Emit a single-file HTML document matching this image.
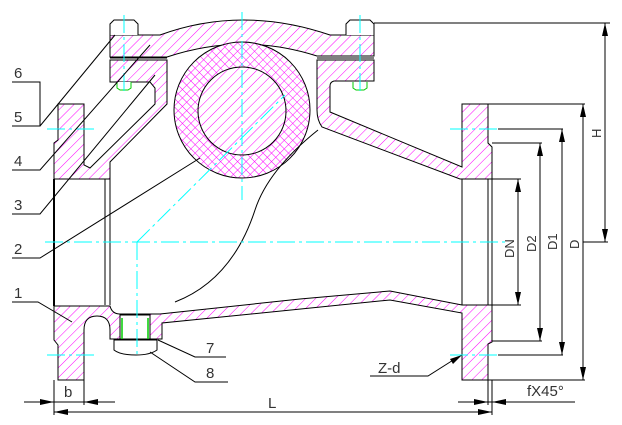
<!DOCTYPE html>
<html><head><meta charset="utf-8"><style>
html,body{margin:0;padding:0;background:#fff;}
svg{display:block;font-family:"Liberation Sans",sans-serif;}
</style></head><body>
<svg width="622" height="425" viewBox="0 0 622 425" xmlns="http://www.w3.org/2000/svg">
<defs>
<pattern id="h" patternUnits="userSpaceOnUse" width="7" height="7" patternTransform="rotate(45)">
<rect width="7" height="7" fill="#fff"/><line x1="0" y1="0" x2="0" y2="7" stroke="#f0f" stroke-width="1"/></pattern>
<pattern id="x" patternUnits="userSpaceOnUse" width="6" height="6" patternTransform="rotate(45)">
<rect width="6" height="6" fill="#fff"/><line x1="0" y1="0" x2="0" y2="6" stroke="#f0f" stroke-width="1"/><line x1="0" y1="0" x2="6" y2="0" stroke="#f0f" stroke-width="1"/></pattern>
</defs>
<g stroke="#000" stroke-width="1" fill="url(#h)">
<path d="M58,104 H84 V165 L90,168 L155,104 V88 L150,82 H110 V60 H167 V104 L110,162 V179 H54 V143 L58,140 Z"/>
<path d="M110,35 H160 Q242,5 330,35 H374 V56 H317 Q242,32 167,57 H110 Z"/>
<path d="M317,60 H374 V81 H334 Q330,82 330,86 V112 L462,167 V104 H488 V143 L492,147 V179 H460 L322,127 Q317,120 317,110 Z"/>
<path d="M54,306 H110 Q112,314 120,314 H160 L300,299 L390,291 L462,305 H492 V342 L488,344 V380 H462 V313 L390,300 L162,323 V339 H110 V330 Q110,316 97,316 Q84,316 84,330 V380 H58 V345 L54,340 Z"/>
</g>
<circle cx="242" cy="110" r="68" fill="url(#x)" stroke="#000"/>
<circle cx="242" cy="111" r="44" fill="url(#h)" stroke="#000"/>
<g stroke="#000" fill="none">
<line x1="54" y1="179" x2="54" y2="306" stroke-width="2"/>
<line x1="105" y1="179" x2="105" y2="305"/><line x1="110" y1="179" x2="110" y2="305"/>
<line x1="462" y1="179" x2="462" y2="305"/><line x1="488" y1="179" x2="488" y2="305"/><line x1="492" y1="147" x2="492" y2="342"/>
<path d="M318,130 Q268,170 255,210 Q232,280 175,302"/>
<rect x="120" y="315" width="30" height="24" fill="#fff"/>
<line x1="122" y1="318" x2="122" y2="339" stroke="#0c0" stroke-width="1.5"/><line x1="148" y1="318" x2="148" y2="339" stroke="#0c0" stroke-width="1.5"/>
<path d="M114,340 H157 V350 Q150,355 136,355 Q120,355 114,350 Z" fill="#fff"/>
<path d="M110,35 V24 L114,20 H134 L138,24 V35" fill="#fff"/>
<path d="M346,35 V24 L350,20 H370 L374,24 V35" fill="#fff"/>
<path d="M117,82 V88 L120,90 H128 L131,88 V82" fill="#fff" stroke="#0c0"/>
<path d="M353,82 V88 L356,90 H364 L367,88 V82" fill="#fff" stroke="#0c0"/>
<line x1="110" y1="58" x2="167" y2="58"/><line x1="317" y1="58" x2="374" y2="58"/>
</g>
<g stroke="#0ff" stroke-width="1" fill="none" stroke-dasharray="18,4,3,4">
<line x1="45" y1="242" x2="505" y2="242"/>
<line x1="242" y1="12" x2="242" y2="200"/>
<line x1="137" y1="242" x2="285" y2="95"/>
<line x1="137" y1="242" x2="137" y2="355"/>
<line x1="124" y1="15" x2="124" y2="95"/><line x1="360" y1="15" x2="360" y2="95"/>
<line x1="47" y1="129" x2="97" y2="129"/><line x1="47" y1="355" x2="97" y2="355"/>
<line x1="450" y1="129" x2="498" y2="129"/><line x1="450" y1="355" x2="498" y2="355"/>
</g>
<g stroke="#000" stroke-width="1" fill="none">
<line x1="374" y1="23" x2="610" y2="23"/><line x1="605" y1="23" x2="605" y2="242"/><line x1="583" y1="242" x2="608" y2="242"/>
<line x1="488" y1="104" x2="585" y2="104"/><line x1="583" y1="104" x2="583" y2="380"/><line x1="488" y1="380" x2="585" y2="380"/>
<line x1="498" y1="129" x2="563" y2="129"/><line x1="562" y1="129" x2="562" y2="355"/><line x1="498" y1="355" x2="563" y2="355"/>
<line x1="492" y1="143" x2="542" y2="143"/><line x1="540" y1="143" x2="540" y2="341"/><line x1="492" y1="341" x2="542" y2="341"/>
<line x1="488" y1="179" x2="521" y2="179"/><line x1="518" y1="179" x2="518" y2="305"/><line x1="488" y1="305" x2="521" y2="305"/>
<line x1="54" y1="380" x2="54" y2="415"/><line x1="84" y1="380" x2="84" y2="405"/>
<line x1="24" y1="402" x2="115" y2="402"/><line x1="54" y1="412" x2="492" y2="412"/>
<line x1="492" y1="380" x2="492" y2="415"/><line x1="488" y1="380" x2="488" y2="405"/>
<line x1="458" y1="402" x2="575" y2="402"/>
</g>
<g fill="#000">
<path d="M605,23 l-3,13 h6z"/><path d="M605,242 l-3,-13 h6z"/>
<path d="M583,104 l-3,13 h6z"/><path d="M583,380 l-3,-13 h6z"/>
<path d="M562,129 l-3,13 h6z"/><path d="M562,355 l-3,-13 h6z"/>
<path d="M540,143 l-3,13 h6z"/><path d="M540,341 l-3,-13 h6z"/>
<path d="M518,179 l-3,13 h6z"/><path d="M518,305 l-3,-13 h6z"/>
<path d="M54,402 l-14,-3 v6z"/><path d="M84,402 l14,-3 v6z"/>
<path d="M54,412 l14,-3 v6z"/><path d="M492,412 l-14,-3 v6z"/>
<path d="M488,402 l-14,-3 v6z"/><path d="M492,402 l14,-3 v6z"/>
<path d="M462,355 l-12,4 l3,5z"/>
</g>
<g stroke="#000" fill="none">
<path d="M12,82 H40 V126 H12"/><line x1="40" y1="126" x2="115" y2="35"/>
<path d="M12,170 H40 L150,45"/>
<path d="M12,214 H40 L155,75"/>
<path d="M12,258 H40 L200,158"/>
<path d="M12,302 H38 L72,322"/>
<path d="M158,340 L195,357 H226"/>
<path d="M150,352 L195,382 H228"/>
<path d="M370,376 H428 L458,357"/>
</g>
<g font-size="15" fill="#333">
<text x="14" y="78">6</text><text x="14" y="122">5</text><text x="14" y="166">4</text>
<text x="14" y="210">3</text><text x="14" y="254">2</text><text x="14" y="298">1</text>
<text x="206" y="353">7</text><text x="206" y="378">8</text>
<text x="378" y="373">Z-d</text><text x="527" y="396">fX45°</text>
<text x="64" y="397">b</text><text x="268" y="408">L</text>
</g>
<g font-size="13" fill="#333">
<text transform="translate(514,258) rotate(-90)">DN</text>
<text transform="translate(536,252) rotate(-90)">D2</text>
<text transform="translate(557,250) rotate(-90)">D1</text>
<text transform="translate(579,249) rotate(-90)">D</text>
<text transform="translate(601,138) rotate(-90)">H</text>
</g>
</svg>
</body></html>
